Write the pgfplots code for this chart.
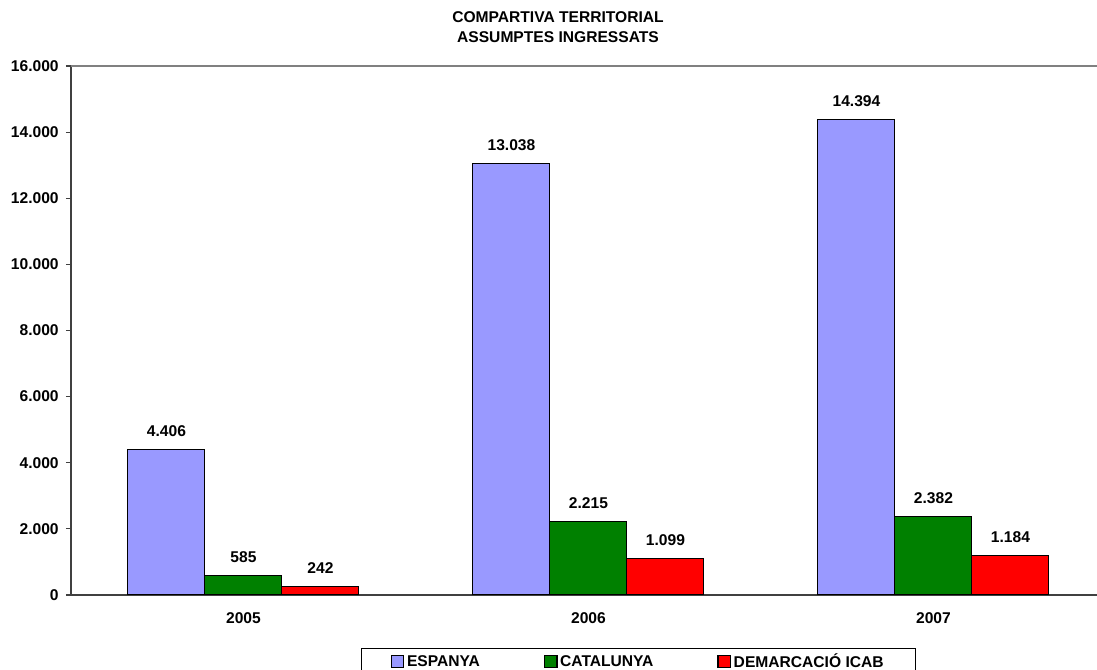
\documentclass[border=0pt]{standalone}
\usepackage{pgfplots}
\pgfplotsset{compat=1.18}
\usepackage{fontspec}
\setmainfont{Liberation Sans}
\definecolor{esp}{HTML}{9999FF}
\definecolor{cat}{HTML}{008000}
\definecolor{icab}{HTML}{FF0000}
\definecolor{axisgray}{HTML}{404040}
\newcommand\chartfont{\fontsize{11.7}{13.5}\selectfont\bfseries}
\begin{document}
\begin{tikzpicture}[font=\chartfont]
\begin{axis}[
  at={(0,0)}, anchor=south west,
  scale only axis,
  width=769.5pt, height=396.75pt,
  ybar=0pt, bar width=57.75pt,
  xmin=-0.5, xmax=2.474,
  ymin=0, ymax=16000,
  xtick={0,1,2}, xticklabels={2005,2006,2007},
  major x tick style={draw=none},
  extra x ticks={0.5,1.5}, extra x tick labels={},
  extra x tick style={major tick length=4pt, tick style={draw=axisgray, line width=0.8pt}},
  ytick={0,2000,...,16000},
  scaled y ticks=false,
  tick align=outside, major tick length=3.75pt,
  ytick style={draw=axisgray, line width=0.8pt},
  axis x line*=bottom, axis y line*=left,
  axis line style={-, draw=axisgray, line width=1.1pt},
  /pgf/number format/.cd, fixed, precision=0, 1000 sep={.}, assume math mode=true,
  /pgfplots/.cd,
  yticklabel style={xshift=-2pt, font=\chartfont},
  xticklabel style={yshift=-6pt, font=\chartfont},
  nodes near coords,
  every node near coord/.append style={anchor=base, yshift=9.75pt, font=\chartfont},
  legend columns=3,
  legend style={at={(0.2826,-0.1002)}, anchor=north west, draw=black, line width=0.8pt,
    inner xsep=22pt, inner ysep=2pt,
    nodes={inner sep=2pt, font=\chartfont},
    /tikz/every even column/.append style={column sep=46pt}},
  legend image code/.code={\draw[#1, line width=0.8pt] (0pt,-4.6pt) rectangle (9.4pt,4.6pt);},
]
\addplot[fill=esp, draw=black, line width=0.75pt] coordinates {(0,4406) (1,13038) (2,14394)};
\addplot[fill=cat, draw=black, line width=0.75pt] coordinates {(0,585) (1,2215) (2,2382)};
\addplot[fill=icab, draw=black, line width=0.75pt] coordinates {(0,242) (1,1099) (2,1184)};
\legend{ESPANYA, CATALUNYA, DEMARCACIÓ ICAB}
\draw[gray, line width=1.1pt] (axis cs:-0.5,16000) -- (axis cs:2.474,16000);
\end{axis}
\node[anchor=base] at (365.25pt,429.5pt) {COMPARTIVA TERRITORIAL};
\node[anchor=base] at (365.25pt,414.5pt) {ASSUMPTES INGRESSATS};
\pgfresetboundingbox
\useasboundingbox (-53.25pt,-56.25pt) rectangle (769.5pt,446.25pt);
\end{tikzpicture}
\end{document}
